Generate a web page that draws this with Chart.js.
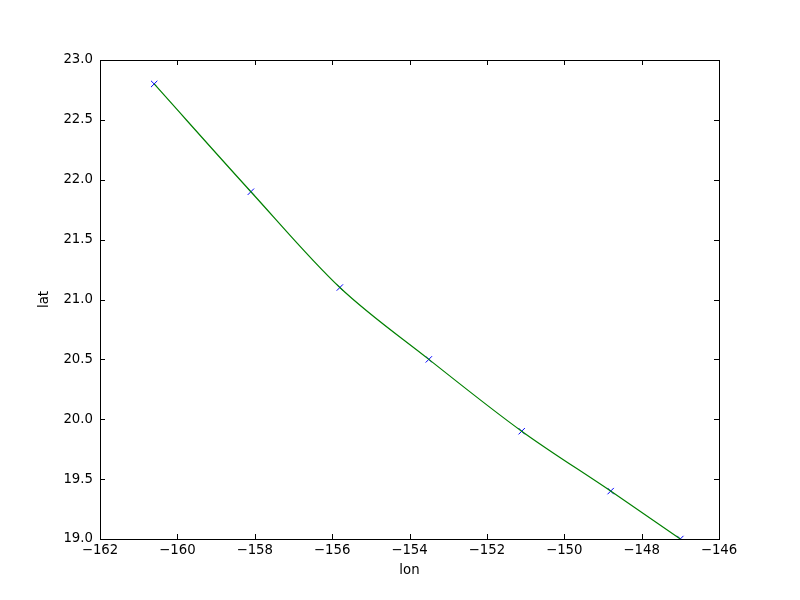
<!DOCTYPE html>
<html>
<head>
<meta charset="utf-8">
<script src="https://cdn.jsdelivr.net/npm/chart.js@4"></script>
<style>
html,body{margin:0;padding:0;background:#fff;}
#wrap{width:800px;height:600px;}
</style>
</head>
<body>
<div id="wrap"><canvas id="c" width="800" height="600"></canvas></div>
<script>
const lon = [-160.6, -158.1, -155.8, -153.5, -151.1, -148.8, -147.0];
const lat = [22.8, 21.9, 21.1, 20.5, 19.9, 19.4, 19.0];
const xTicks = [-162, -160, -158, -156, -154, -152, -150, -148, -146];
const yTicks = [19.0, 19.5, 20.0, 20.5, 21.0, 21.5, 22.0, 22.5, 23.0];

const pts = lon.map((x, i) => ({x: x, y: lat[i]}));
const FONT = {family: 'DejaVu Sans', size: 13.3};

const innerTicks = {
  id: 'innerTicks',
  afterDraw(chart) {
    const {ctx, chartArea: a, scales} = chart;
    ctx.save();
    ctx.strokeStyle = '#000';
    ctx.lineWidth = 1;
    const L = 5;
    ctx.beginPath();
    xTicks.forEach(v => {
      const px = Math.round(scales.x.getPixelForValue(v)) + 0.5;
      ctx.moveTo(px, a.bottom); ctx.lineTo(px, a.bottom - L);
      ctx.moveTo(px, a.top); ctx.lineTo(px, a.top + L);
    });
    yTicks.forEach(v => {
      const py = Math.round(scales.y.getPixelForValue(v)) + 0.5;
      ctx.moveTo(a.left, py); ctx.lineTo(a.left + L, py);
      ctx.moveTo(a.right, py); ctx.lineTo(a.right - L, py);
    });
    ctx.stroke();
    ctx.strokeRect(Math.round(a.left) + 0.5, Math.round(a.top) + 0.5,
                   Math.round(a.right - a.left), Math.round(a.bottom - a.top));
    ctx.restore();
  }
};

new Chart(document.getElementById('c'), {
  type: 'scatter',
  data: {
    datasets: [
      {
        data: pts, showLine: true, borderColor: '#008000', borderWidth: 1.2,
        pointRadius: 0, cubicInterpolationMode: 'monotone', fill: false, clip: 0
      },
      {
        data: pts, showLine: false, pointStyle: 'crossRot', pointRadius: 4.5,
        borderColor: '#0000ff', pointBorderColor: '#0000ff', pointBorderWidth: 1, clip: 0
      }
    ]
  },
  options: {
    responsive: false,
    animation: false,
    events: [],
    layout: {padding: {left: 0, top: 60, right: 81, bottom: 0}},
    plugins: {legend: {display: false}, tooltip: {enabled: false}},
    scales: {
      x: {
        type: 'linear', min: -162, max: -146,
        afterFit(s) { s.height = 61; },
        afterBuildTicks(s) { s.ticks = xTicks.map(v => ({value: v})); },
        grid: {display: true, drawOnChartArea: false, drawTicks: false},
        border: {display: false},
        ticks: {
          color: '#000', font: FONT, padding: 4, maxRotation: 0, autoSkip: false,
          callback: v => (v < 0 ? '\u2212' + Math.abs(v) : String(v))
        },
        title: {display: true, text: 'lon', color: '#000', font: FONT, padding: {top: 0, bottom: 21}}
      },
      y: {
        type: 'linear', min: 19, max: 23,
        afterFit(s) { s.width = 100; },
        afterBuildTicks(s) { s.ticks = yTicks.map(v => ({value: v})); },
        grid: {display: true, drawOnChartArea: false, drawTicks: false},
        border: {display: false},
        ticks: {
          color: '#000', font: FONT, padding: 7, autoSkip: false,
          callback: v => Number(v).toFixed(1)
        },
        title: {display: true, text: 'lat', color: '#000', font: FONT, padding: {top: 37, bottom: 0}}
      }
    }
  },
  plugins: [innerTicks]
});
</script>
</body>
</html>
